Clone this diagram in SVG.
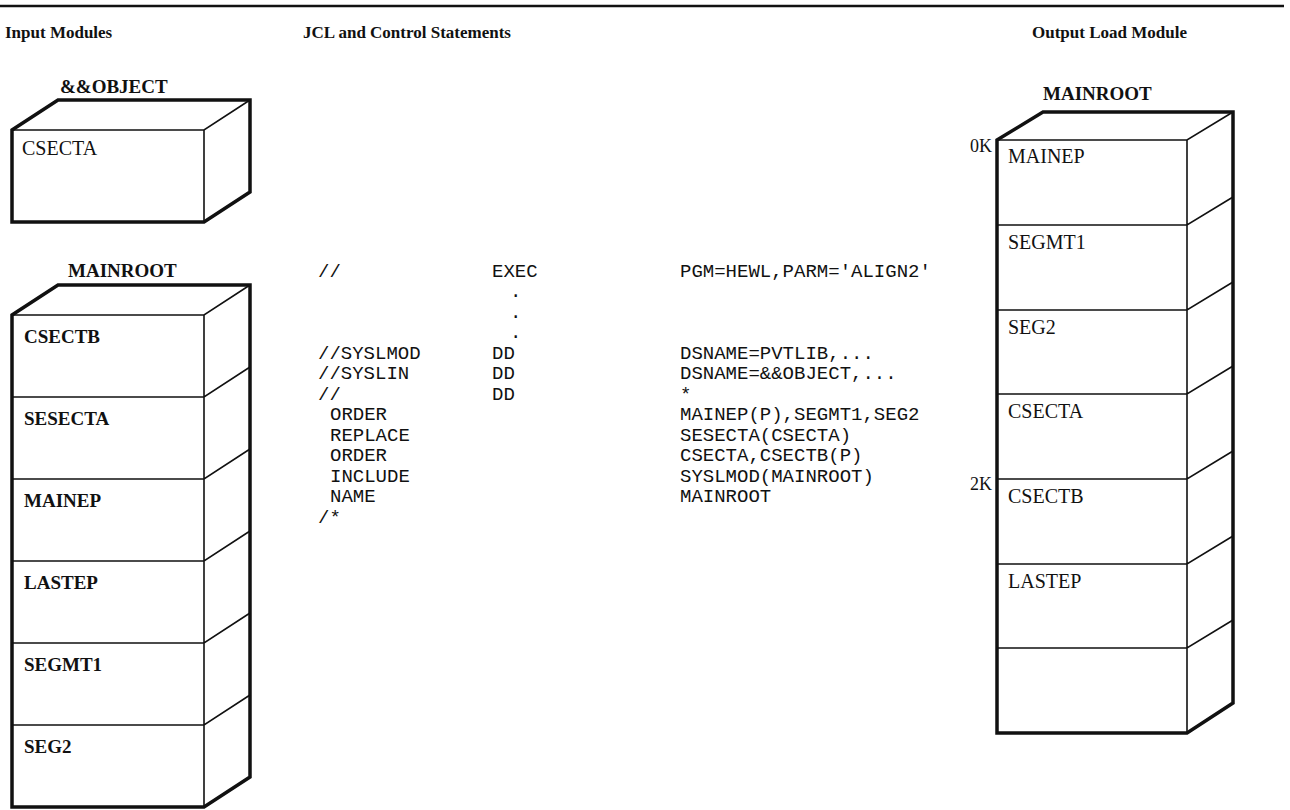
<svg xmlns="http://www.w3.org/2000/svg" width="1290" height="810" viewBox="0 0 1290 810">
<style>
  .hdr { font-family: "Liberation Serif", "Times New Roman", serif; font-weight: bold; font-size: 17px; fill: #111; }
  .ttl { font-family: "Liberation Serif", "Times New Roman", serif; font-weight: bold; font-size: 19px; fill: #111; }
  .lblb { font-family: "Liberation Serif", "Times New Roman", serif; font-weight: bold; font-size: 19px; fill: #111; }
  .lbl { font-family: "Liberation Serif", "Times New Roman", serif; font-size: 20px; fill: #111; }
  .mark { font-family: "Liberation Serif", "Times New Roman", serif; font-size: 18px; fill: #111; }
  .mono { font-family: "Liberation Mono", "Courier New", monospace; font-size: 19px; fill: #111; }
  .outer { fill: #fff; stroke: #111; stroke-width: 3.5; stroke-linejoin: miter; }
  .inner { fill: none; stroke: #111; stroke-width: 1.6; }
  .rule { stroke: #111; stroke-width: 2.5; }
</style>
<rect width="1290" height="810" fill="#fff"/>
<line class="rule" x1="0" y1="6" x2="1284" y2="6"/>
<text class="hdr" x="5" y="38">Input Modules</text>
<text class="hdr" x="303" y="38">JCL and Control Statements</text>
<text class="hdr" x="1032" y="38">Output Load Module</text>

<g id="object-module">
  <text class="ttl" x="60" y="93">&amp;&amp;OBJECT</text>
  <path class="outer" d="M12,222 L12,130 L58,100 L250,100 L250,192 L204,222 Z"/>
  <path class="inner" d="M12,130 L204,130 L250,100 M204,130 L204,222"/>
  <text class="lbl" x="22" y="155">CSECTA</text>
</g>

<g id="input-mainroot">
  <text class="ttl" x="68" y="277">MAINROOT</text>
  <path class="outer" d="M12,807 L12,315 L58,285 L250,285 L250,777 L204,807 Z"/>
  <path class="inner" d="M12,315 L204,315 L250,285 M204,315 L204,807
    M12,397 L204,397 L250,367
    M12,479 L204,479 L250,449
    M12,561 L204,561 L250,531
    M12,643 L204,643 L250,613
    M12,725 L204,725 L250,695"/>
  <text class="lblb" x="24" y="343">CSECTB</text>
  <text class="lblb" x="24" y="425">SESECTA</text>
  <text class="lblb" x="24" y="507">MAINEP</text>
  <text class="lblb" x="24" y="589">LASTEP</text>
  <text class="lblb" x="24" y="671">SEGMT1</text>
  <text class="lblb" x="24" y="753">SEG2</text>
</g>

<g id="jcl">
  <text class="mono" x="318" y="277">//</text>
  <text class="mono" x="492" y="277">EXEC</text>
  <text class="mono" x="680" y="277">PGM=HEWL,PARM='ALIGN2'</text>
  <text class="mono" x="510" y="297">.</text>
  <text class="mono" x="510" y="318">.</text>
  <text class="mono" x="510" y="338">.</text>
  <text class="mono" x="318" y="359">//SYSLMOD</text>
  <text class="mono" x="492" y="359">DD</text>
  <text class="mono" x="680" y="359">DSNAME=PVTLIB,...</text>
  <text class="mono" x="318" y="379">//SYSLIN</text>
  <text class="mono" x="492" y="379">DD</text>
  <text class="mono" x="680" y="379">DSNAME=&amp;&amp;OBJECT,...</text>
  <text class="mono" x="318" y="400">//</text>
  <text class="mono" x="492" y="400">DD</text>
  <text class="mono" x="680" y="400">*</text>
  <text class="mono" x="330" y="420">ORDER</text>
  <text class="mono" x="680" y="420">MAINEP(P),SEGMT1,SEG2</text>
  <text class="mono" x="330" y="441">REPLACE</text>
  <text class="mono" x="680" y="441">SESECTA(CSECTA)</text>
  <text class="mono" x="330" y="461">ORDER</text>
  <text class="mono" x="680" y="461">CSECTA,CSECTB(P)</text>
  <text class="mono" x="330" y="482">INCLUDE</text>
  <text class="mono" x="680" y="482">SYSLMOD(MAINROOT)</text>
  <text class="mono" x="330" y="502">NAME</text>
  <text class="mono" x="680" y="502">MAINROOT</text>
  <text class="mono" x="318" y="523">/*</text>
</g>

<g id="output-mainroot">
  <text class="ttl" x="1043" y="100">MAINROOT</text>
  <path class="outer" d="M997,733 L997,140 L1043,112 L1233,112 L1233,703 L1187,733 Z"/>
  <path class="inner" d="M997,140 L1187,140 L1233,112 M1187,140 L1187,733
    M997,225 L1187,225 L1233,197
    M997,310 L1187,310 L1233,282
    M997,394 L1187,394 L1233,366
    M997,479 L1187,479 L1233,451
    M997,564 L1187,564 L1233,536
    M997,648 L1187,648 L1233,620"/>
  <text class="mark" x="992" y="152" text-anchor="end">0K</text>
  <text class="mark" x="992" y="490" text-anchor="end">2K</text>
  <text class="lbl" x="1008" y="163">MAINEP</text>
  <text class="lbl" x="1008" y="249">SEGMT1</text>
  <text class="lbl" x="1008" y="334">SEG2</text>
  <text class="lbl" x="1008" y="418">CSECTA</text>
  <text class="lbl" x="1008" y="503">CSECTB</text>
  <text class="lbl" x="1008" y="588">LASTEP</text>
</g>
</svg>
